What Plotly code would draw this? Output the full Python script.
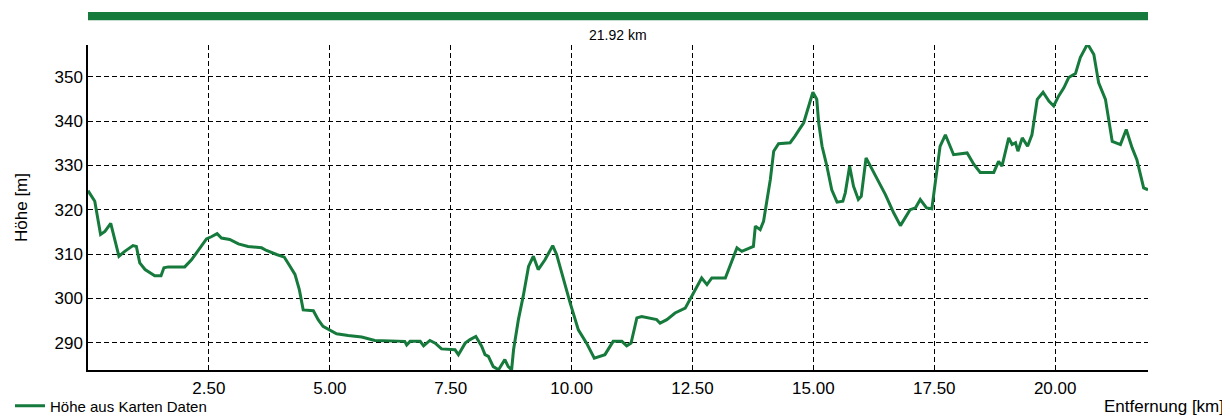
import plotly.graph_objects as go

# Distance along the route [km]
dist_km = [0.00, 0.14, 0.26, 0.35, 0.47, 0.55, 0.64, 0.76, 0.93, 1.00, 1.07, 1.18, 1.31, 1.38, 1.51,
           1.57, 1.66, 2.00, 2.14, 2.31, 2.45, 2.55, 2.67, 2.76, 2.93, 3.11, 3.31, 3.59, 3.69, 3.90,
           4.06, 4.18, 4.28, 4.37, 4.45, 4.66, 4.76, 4.86, 5.00, 5.14, 5.38, 5.66, 5.93, 6.55, 6.59,
           6.66, 6.87, 6.94, 7.07, 7.18, 7.31, 7.59, 7.66, 7.80, 7.90, 8.02, 8.14, 8.21, 8.28, 8.38,
           8.49, 8.62, 8.69, 8.76, 8.80, 8.90, 9.00, 9.11, 9.21, 9.31, 9.45, 9.61, 9.69, 9.83, 9.97,
           10.14, 10.31, 10.47, 10.69, 10.86, 11.04, 11.14, 11.23, 11.35, 11.45, 11.76, 11.83, 11.97,
           12.14, 12.35, 12.49, 12.69, 12.80, 12.90, 13.18, 13.42, 13.52, 13.76, 13.80, 13.90, 13.97,
           14.04, 14.11, 14.18, 14.28, 14.52, 14.62, 14.80, 14.88, 14.99, 15.07, 15.11, 15.18, 15.28,
           15.38, 15.49, 15.61, 15.66, 15.75, 15.83, 15.93, 15.99, 16.09, 16.21, 16.35, 16.49, 16.66,
           16.80, 17.00, 17.11, 17.21, 17.34, 17.45, 17.52, 17.62, 17.73, 17.90, 18.18, 18.32, 18.45,
           18.73, 18.83, 18.90, 19.04, 19.11, 19.18, 19.23, 19.32, 19.43, 19.52, 19.63, 19.75, 19.87,
           19.97, 20.07, 20.18, 20.28, 20.42, 20.52, 20.67, 20.80, 20.90, 21.04, 21.18, 21.35, 21.47,
           21.59, 21.69, 21.83, 21.92]

# Elevation from map data [m]
hoehe_m = [324.3, 321.9, 314.4, 315.1, 316.9, 313.6, 309.5, 310.6, 311.9, 311.7, 308.0, 306.5, 305.7, 305.1, 305.1,
           306.9, 307.1, 307.1, 308.7, 311.4, 313.4, 313.9, 314.6, 313.6, 313.3, 312.3, 311.7, 311.4, 310.8, 309.9,
           309.3, 307.2, 305.4, 302.0, 297.4, 297.2, 295.2, 293.7, 292.9, 292.0, 291.6, 291.3, 290.5, 290.3, 289.5,
           290.3, 290.3, 289.3, 290.5, 289.9, 288.6, 288.4, 287.3, 289.9, 290.7, 291.4, 289.2, 287.3, 286.9, 284.6,
           283.9, 286.2, 284.6, 283.9, 288.4, 295.2, 300.5, 307.2, 309.5, 306.5, 308.7, 311.9, 309.9, 304.2, 299.0,
           292.9, 289.9, 286.5, 287.3, 290.3, 290.3, 289.3, 289.9, 295.6, 295.9, 295.2, 294.4, 295.2,
           296.7, 297.8, 300.5, 304.6, 303.1, 304.6, 304.6, 311.4, 310.6, 311.7, 316.3, 315.5, 317.4,
           322.3, 326.8, 333.2, 334.9, 335.1, 336.6, 339.6, 342.6, 346.5, 344.9, 339.6, 334.3, 329.8,
           324.5, 321.7, 321.9, 323.8, 329.8, 325.3, 322.3, 323.0, 331.7, 329.1, 326.4, 323.4, 319.3,
           316.4, 320.0, 320.4, 322.3, 320.4, 320.2, 326.0, 334.3, 336.9, 332.4, 332.8, 330.2, 328.4,
           328.4, 330.9, 329.8, 336.2, 334.7, 335.1, 333.2, 336.2, 334.3, 336.9, 344.9, 346.5, 344.5,
           343.4, 345.6, 347.5, 349.8, 350.7, 354.3, 357.4, 355.0, 348.6, 344.9, 335.4, 334.7, 338.1,
           334.0, 331.3, 324.9, 324.5]

total_label = "21.92 km"
x_tickvals = [2.5, 5.0, 7.5, 10.0, 12.5, 15.0, 17.5, 20.0]
x_ticktext = ["2.50", "5.00", "7.50", "10.00", "12.50", "15.00", "17.50", "20.00"]
y_tickvals = [290, 300, 310, 320, 330, 340, 350]
y_ticktext = ["290", "300", "310", "320", "330", "340", "350"]
series_name = "Höhe aus Karten Daten"
x_title = "Entfernung [km]"
y_title = "Höhe [m]"

GREEN = "#167a3c"
FONT = "Liberation Sans, Arial, sans-serif"

fig = go.Figure()
fig.add_trace(go.Scatter(
    x=dist_km, y=hoehe_m, mode="lines", name=series_name,
    line=dict(color=GREEN, width=3), showlegend=True,
))

# The page body adds an 8px offset, so the figure is drawn 8px smaller
OFF = 8
W, H = 1230 - OFF, 416 - OFF
L, T = 88 - OFF, 45 - OFF
pw, ph = 1060, 325
R, B = W - L - pw, H - T - ph

def py(pix):  # screen pixel (reference) -> paper y
    return (T + ph - (pix - OFF)) / ph

def px(pix):  # screen pixel (reference) -> paper x
    return ((pix - OFF) - L) / pw

fig.update_layout(
    width=W, height=H,
    margin=dict(l=L, r=R, t=T, b=B, pad=0, autoexpand=False),
    paper_bgcolor="white", plot_bgcolor="white",
    font=dict(family=FONT, size=17, color="black"),
    showlegend=True,
    legend=dict(orientation="h", x=px(10), y=py(406), xanchor="left", yanchor="middle",
                font=dict(size=15), itemwidth=30, bgcolor="rgba(0,0,0,0)", borderwidth=0),
    xaxis=dict(range=[0, dist_km[-1]], tickvals=x_tickvals, ticktext=x_ticktext,
               showline=True, linecolor="black", linewidth=1.5,
               showgrid=True, gridcolor="#000", gridwidth=1, griddash="5px,3px",
               zeroline=False, ticks="", tickfont=dict(size=17), ticklabelstandoff=2),
    yaxis=dict(range=[283.84, 357.15], tickvals=y_tickvals, ticktext=y_ticktext,
               showline=True, linecolor="black", linewidth=1.5,
               showgrid=True, gridcolor="#000", gridwidth=1, griddash="5px,3px",
               zeroline=False, ticks="", tickfont=dict(size=17),
               title=dict(text=y_title, font=dict(size=17), standoff=23)),
    shapes=[dict(type="rect", xref="paper", yref="paper", x0=0, x1=1,
                 y0=py(20.3), y1=py(12), fillcolor=GREEN, line=dict(width=0))],
    annotations=[
        dict(text=total_label, xref="paper", yref="paper", x=0.5, y=py(35),
             xanchor="center", yanchor="middle", showarrow=False, font=dict(size=14)),
        dict(text=x_title, xref="paper", yref="paper", x=px(1226), y=py(406),
             xanchor="right", yanchor="middle", showarrow=False, font=dict(size=17)),
    ],
)

fig.write_html("out.html")
